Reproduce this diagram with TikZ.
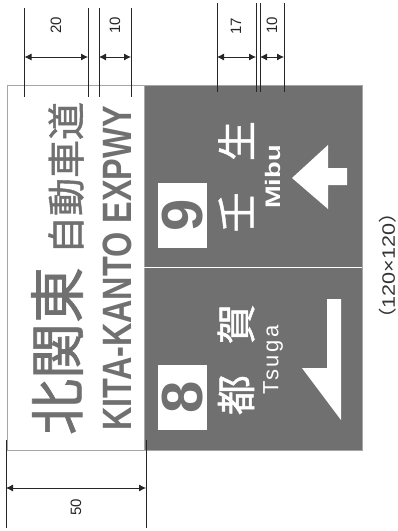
\documentclass[tikz,border=0pt]{standalone}
\usepackage{fontspec}
\setmainfont{Liberation Sans}
\newfontfamily\cjk[FakeBold=1.2]{Noto Sans CJK JP}
\newfontfamily\cjkplain{Noto Sans CJK JP}
\usetikzlibrary{arrows.meta}
\definecolor{signgray}{HTML}{707070}
\tikzset{
    base/.style={rotate=90, inner sep=0pt, align=center},
    panel/.style={draw=gray!70, thin, minimum height=365pt, inner sep=0pt},
    graytext/.style={base, text=signgray},
    whitetext/.style={base, text=white},
    numbox/.style={base, fill=white, text=signgray, minimum width=65pt, minimum height=49pt, font=\bfseries\fontsize{58}{58}\selectfont},
    dimtext/.style={base, text=black!85, font=\fontsize{15}{15}\selectfont},
    extline/.style={draw=black!85, thick},
    dimline/.style={draw=black!85, thick, {Latex[length=7pt,width=7pt]}-{Latex[length=7pt,width=7pt]}},
    whiteshape/.style={fill=white, draw=none}
}
\begin{document}
\begin{tikzpicture}[x=1pt, y=-1pt]
    \useasboundingbox (0,0) rectangle (398,531);
    \node [panel, fill=white, minimum width=137pt] (UpperPanel) at (76,267.5) {};
    \node [panel, fill=signgray, minimum width=218pt] (LowerPanel) at (253,267.5) {};
    \draw [white, line width=1.2pt] (LowerPanel.west |- 0,267.5) -- (LowerPanel.east |- 0,267.5);

    % white band
    \node [graytext, font=\cjk\fontsize{56}{56}\selectfont] (Kita) at (57,351) {北関東};
    \node [graytext, font=\cjk\fontsize{38}{38}\selectfont] (Jidosha) at (66,178) {自動車道};
    \node [graytext, font=\bfseries\fontsize{41}{41}\selectfont] (Expwy) at (117,268.5) {\scalebox{0.79}[1]{KITA-KANTO EXPWY}};

    % left exit
    \node [numbox] (Exit9) at (182.5,215) {9};
    \node [whitetext, font=\cjk\fontsize{40}{40}\selectfont] (Mibu1) at (236,212.5) {壬};
    \node [whitetext, font=\cjk\fontsize{40}{40}\selectfont] (Mibu2) at (236,141) {生};
    \node [whitetext, font=\bfseries\fontsize{21}{21}\selectfont] (MibuEn) at (273,177) {\scalebox{1.3}[1]{Mibu}};
    \fill [whiteshape] (292,178) -- (328,145) -- (328,168) -- (347,168) -- (347,185) -- (328,185) -- (328,209) -- cycle;

    % right exit
    \node [numbox] (Exit8) at (182.5,397.5) {8};
    \node [whitetext, font=\cjk\fontsize{40}{40}\selectfont] (Tsuga1) at (236,395) {都};
    \node [whitetext, font=\cjk\fontsize{40}{40}\selectfont] (Tsuga2) at (236,324) {賀};
    \node [whitetext, font=\addfontfeature{LetterSpace=12}\fontsize{22}{22}\selectfont] (TsugaEn) at (273,360) {Tsuga};
    \fill [whiteshape] (341,299) -- (341,420) -- (302,368) -- (327,368) -- (327,299) -- cycle;

    \node [base, text=black!80, font=\fontsize{18}{18}\selectfont] (Size) at (388,266) {\scalebox{1.2}[1]{{\cjkplain （}120×120{\cjkplain ）}}};

    % dimensions along the top
    \foreach \id/\x/\top/\bot in {a/24.5/8/97, b/88/8/97, c/99/8/97, d/131/8/97, e/217/3/92, f/256/3/92, g/260/3/92, h/284/3/92}{
        \coordinate (\id t) at (\x,\top);
        \coordinate (\id b) at (\x,\bot);
        \coordinate (\id m) at (\x,57);
        \draw [extline] (\id t) -- (\id b);
    }
    \draw [dimline] (am) -- (bm);
    \draw [dimline] (cm) -- (dm);
    \draw [dimline] (em) -- (fm);
    \draw [dimline] (gm) -- (hm);
    \node [dimtext] (Dim20) at (56,25) {20};
    \node [dimtext] (Dim10a) at (115,25) {10};
    \node [dimtext] (Dim17) at (236,26) {17};
    \node [dimtext] (Dim10b) at (272,25) {10};

    % width of the band
    \coordinate (it) at (6,440);
    \coordinate (ib) at (6,528);
    \coordinate (jt) at (146,440);
    \coordinate (jb) at (146,528);
    \coordinate (im) at (6,488);
    \coordinate (jm) at (146,488);
    \draw [extline] (it) -- (ib);
    \draw [extline] (jt) -- (jb);
    \draw [dimline] (im) -- (jm);
    \node [dimtext] (Dim50) at (76,507) {50};
\end{tikzpicture}
\end{document}
